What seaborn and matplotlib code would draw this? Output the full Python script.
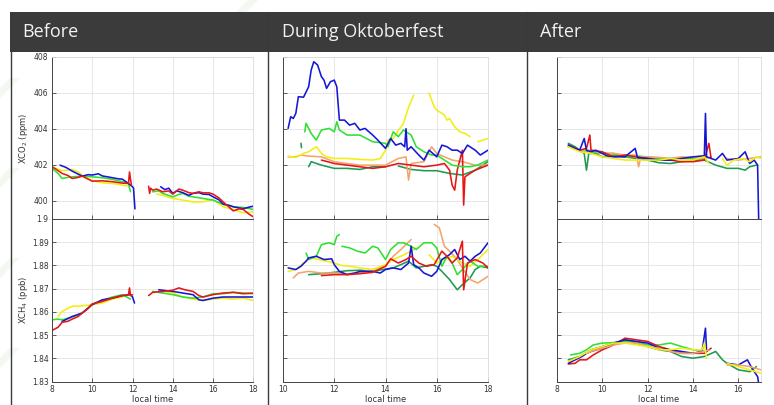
import numpy as np
import matplotlib
matplotlib.use("Agg")
import matplotlib.pyplot as plt
import seaborn as sns
from matplotlib.patches import Rectangle, Polygon
from matplotlib.lines import Line2D

nan = float("nan")

# ---------------- text ----------------
PANEL_TITLES = ["Before", "During Oktoberfest", "After"]
CO2_LABEL = "XCO$_2$ (ppm)"
CH4_LABEL = "XCH$_4$ (ppb)"
X_LABEL = "local time"
CO2_TICKS = [400, 402, 404, 406, 408]
CO2_TICKLABELS = ["400", "402", "404", "406", "408"]
CH4_TICKS = [1.83, 1.84, 1.85, 1.86, 1.87, 1.88, 1.89, 1.90]
CH4_TICKLABELS = ["1.83", "1.84", "1.85", "1.86", "1.87", "1.88", "1.89", "1.9"]
X_TICKS_BEFORE = [8, 10, 12, 14, 16, 18]
X_TICKS_DURING = [10, 12, 14, 16, 18]
X_TICKS_AFTER = [8, 10, 12, 14, 16]

# ---------------- BEFORE: XCO2 ----------------
BEF_CO2_BLUE_T = [8.4, 8.7, 9.0, 9.5, 9.8, 10.0, 10.3, 10.5, 11.0, 11.3, 11.5, 11.8, 12.0, 12.05, 12.12, nan,
                  13.4, 13.6, 13.8, 14.0, 14.2, 14.5, 14.8, 15.0, 15.3, 15.5, 15.8, 16.0, 16.3, 16.5, 16.8, 17.0, 17.3, 17.5, 17.8, 18.0]
BEF_CO2_BLUE_V = [401.98, 401.85, 401.65, 401.37, 401.45, 401.43, 401.50, 401.38, 401.28, 401.22, 401.20, 400.96, 400.78, 400.70, 399.55, nan,
                  400.78, 400.62, 400.70, 400.41, 400.55, 400.45, 400.30, 400.41, 400.45, 400.37, 400.35, 400.22, 400.05, 399.81, 399.75, 399.67, 399.60, 399.56, 399.65, 399.70]
BEF_CO2_RED_T = [8.0, 8.2, 8.5, 8.8, 9.0, 9.3, 9.5, 9.8, 10.0, 10.5, 11.0, 11.5, 11.8, 11.85, 11.9, 11.95, nan,
                 12.8, 12.85, 12.9, 13.0, 13.2, 13.5, 13.8, 14.0, 14.3, 14.5, 14.8, 15.0, 15.3, 15.5, 15.8, 16.0, 16.3, 16.5, 16.8, 17.0, 17.3, 17.5, 17.8, 18.0]
BEF_CO2_RED_V = [401.89, 401.75, 401.52, 401.40, 401.24, 401.30, 401.37, 401.20, 401.09, 401.11, 401.06, 400.98, 400.96, 401.60, 401.20, 400.85, nan,
                 400.81, 400.41, 400.70, 400.59, 400.65, 400.50, 400.55, 400.37, 400.65, 400.59, 400.45, 400.41, 400.50, 400.44, 400.44, 400.37, 400.15, 399.94, 399.65, 399.44, 399.55, 399.52, 399.25, 399.11]
BEF_CO2_GREEN_T = [8.0, 8.3, 8.5, 8.8, 9.0, 9.5, 10.0, 10.5, 11.0, 11.5, 11.8, 11.9, nan,
                   13.0, 13.3, 13.5, 14.0, 14.3, 14.5, 14.8, 15.0, 15.5, 16.0, 16.5, 17.0, 17.5, 18.0]
BEF_CO2_GREEN_V = [401.80, 401.52, 401.24, 401.30, 401.33, 401.37, 401.33, 401.28, 401.19, 401.06, 400.96, 400.50, nan,
                   400.50, 400.55, 400.41, 400.22, 400.35, 400.41, 400.25, 400.22, 400.13, 400.04, 399.81, 399.67, 399.63, 399.52]
BEF_CO2_YELLOW_T = [8.0, 8.5, 9.0, 9.3, 9.5, 10.0, 10.5, 11.0, 11.5, 11.8, nan,
                    13.2, 13.5, 14.0, 14.5, 15.0, 15.5, 16.0, 16.5, 17.0, 17.5, 18.0]
BEF_CO2_YELLOW_V = [401.89, 401.67, 401.74, 401.60, 401.43, 401.11, 401.00, 400.96, 400.87, 400.81, nan,
                    400.37, 400.31, 400.13, 400.04, 399.94, 399.94, 400.07, 399.67, 399.52, 399.33, 399.39]

# ---------------- BEFORE: XCH4 ----------------
BEF_CH4_RED_T = [8.0, 8.3, 8.5, 8.8, 9.0, 9.3, 9.5, 9.8, 10.0, 10.5, 11.0, 11.5, 11.8, 11.85, 11.9, 12.0, nan,
                 12.8, 13.0, 13.5, 14.0, 14.3, 14.6, 15.0, 15.3, 15.5, 16.0, 16.5, 17.0, 17.5, 18.0]
BEF_CH4_RED_V = [1.8520, 1.8534, 1.8555, 1.8560, 1.8569, 1.8580, 1.8595, 1.8615, 1.8634, 1.8645, 1.8659, 1.8670, 1.8674, 1.8703, 1.8670, 1.8674, nan,
                 1.8670, 1.8684, 1.8688, 1.8693, 1.8703, 1.8695, 1.8688, 1.8670, 1.8664, 1.8674, 1.8681, 1.8684, 1.8678, 1.8681]
BEF_CH4_BLUE_T = [8.5, 9.0, 9.5, 10.0, 10.5, 11.0, 11.5, 11.9, 12.0, 12.1, nan,
                  13.3, 13.5, 14.0, 14.5, 15.0, 15.3, 15.5, 16.0, 16.5, 17.0, 17.5, 18.0]
BEF_CH4_BLUE_V = [1.8559, 1.8580, 1.8595, 1.8631, 1.8652, 1.8659, 1.8670, 1.8674, 1.8664, 1.8638, nan,
                  1.8695, 1.8693, 1.8688, 1.8681, 1.8674, 1.8652, 1.8649, 1.8659, 1.8664, 1.8664, 1.8664, 1.8664]
BEF_CH4_GREEN_T = [8.0, 8.3, 8.5, 9.0, 9.5, 10.0, 10.5, 11.0, 11.5, 11.9, nan,
                   13.0, 13.5, 14.0, 14.5, 15.0, 15.5, 16.0, 16.5, 17.0, 17.5, 18.0]
BEF_CH4_GREEN_V = [1.8566, 1.8569, 1.8566, 1.8578, 1.8595, 1.8634, 1.8649, 1.8664, 1.8674, 1.8655, nan,
                   1.8688, 1.8681, 1.8674, 1.8664, 1.8659, 1.8664, 1.8678, 1.8678, 1.8684, 1.8681, 1.8678]
BEF_CH4_YELLOW_T = [8.3, 8.5, 9.0, 9.5, 10.0, 10.5, 11.0, 11.5, nan,
                    13.6, 14.0, 14.5, 15.0, 15.5, 16.0, 16.5, 17.0, 17.5, 18.0]
BEF_CH4_YELLOW_V = [1.8580, 1.8602, 1.8624, 1.8626, 1.8631, 1.8638, 1.8655, 1.8664, nan,
                    1.8688, 1.8681, 1.8664, 1.8655, 1.8649, 1.8655, 1.8659, 1.8655, 1.8659, 1.8649]

# ---------------- DURING: XCO2 ----------------
DUR_CO2_BLUE_T = [10.2, 10.3, 10.4, 10.5, 10.6, 10.8, 11.0, 11.1, 11.2, 11.35, 11.5, 11.6, 11.7, 11.85, 12.0, 12.1, 12.2, 12.4, 12.6, 12.8,
                  13.0, 13.2, 13.5, 13.7, 14.0, 14.2, 14.4, 14.6, 14.75, 14.8, 14.85, 15.0, 15.3, 15.5, 15.7, 16.0, 16.2, 16.4, 16.6, 16.8,
                  17.0, 17.2, 17.5, 17.7, 18.0]
DUR_CO2_BLUE_V = [404.02, 404.67, 404.57, 404.85, 405.78, 405.75, 406.33, 407.26, 407.72, 407.54, 406.89, 406.70, 406.24, 406.61, 406.70, 406.33, 404.48, 404.48, 404.20, 404.30,
                  403.93, 404.02, 403.65, 403.37, 402.91, 403.46, 403.09, 403.19, 403.00, 404.00, 402.81, 403.00, 402.54, 402.26, 402.81, 402.44, 403.09, 403.00, 402.81, 402.81,
                  402.63, 403.09, 402.81, 402.54, 402.81]
DUR_CO2_GREEN_T = [10.85, 10.9, 11.1, 11.3, 11.5, 11.8, 12.0, 12.1, 12.2, 12.5, 13.0, 13.5, 14.0, 14.1, 14.3, 14.5, 14.7, 15.0, 15.2, 15.5,
                   15.8, 16.0, 16.3, 16.6, 17.0, 17.3, 17.6, 18.0]
DUR_CO2_GREEN_V = [403.83, 404.30, 403.74, 403.37, 403.93, 404.02, 403.83, 404.39, 403.93, 403.65, 403.65, 403.28, 403.19, 403.00, 403.83, 403.56, 403.93, 403.65, 403.00, 402.72,
                   402.54, 402.54, 402.26, 401.98, 401.89, 401.89, 401.98, 402.26]
DUR_CO2_DKGREEN_T = [10.7, 10.72, nan, 11.0, 11.1, 11.5, 12.0, 12.5, 13.0, 13.5, 14.0, nan,
                     14.5, 15.0, 15.5, 16.0, 16.5, 17.0, 17.5, 18.0]
DUR_CO2_DKGREEN_V = [403.19, 402.95, nan, 401.89, 402.17, 401.98, 401.80, 401.80, 401.74, 401.89, 401.89, nan,
                     401.93, 401.74, 401.67, 401.67, 401.52, 401.43, 401.70, 402.17]
DUR_CO2_RED_T = [11.5, 12.0, 12.5, 13.0, 13.5, 14.0, 14.5, 15.0, 15.5, 16.0, 16.3, 16.5, 16.6, 16.7, 16.8, 17.0, 17.05, 17.1, 17.3, 17.5, 18.0]
DUR_CO2_RED_V = [402.26, 402.07, 401.98, 401.89, 401.80, 401.89, 402.07, 401.98, 401.89, 401.98, 402.07, 401.70, 400.87, 400.59, 401.70, 402.81, 399.76, 401.33, 401.52, 401.70, 401.98]
DUR_CO2_YELLOW_T = [10.2, 10.5, 10.8, 11.0, 11.3, 11.5, 11.7, 12.0, 12.5, 13.0, 13.5, 13.8, 14.0, 14.1, 14.3, 14.5, 14.7, 14.9, 15.1, nan,
                    15.7, 15.9, 16.0, 16.3, 16.4, 16.5, 16.7, 16.9, 17.1, 17.3, nan, 17.6, 18.0]
DUR_CO2_YELLOW_V = [402.48, 402.41, 402.63, 402.72, 403.00, 402.63, 402.44, 402.35, 402.35, 402.30, 402.26, 402.35, 402.81, 403.37, 403.46, 403.90, 404.30, 405.20, 405.87, nan,
                    405.98, 405.22, 405.04, 404.76, 404.48, 404.57, 404.11, 403.83, 403.74, 403.56, nan, 403.28, 403.46]
DUR_CO2_ORANGE_T = [10.2, 10.5, 10.7, 11.0, 11.5, 12.0, 12.5, 13.0, 13.5, 14.0, 14.5, 14.8, 14.9, 15.0, 15.5, 15.8, 16.0, 16.3, 16.6, 17.0, 17.5, 18.0]
DUR_CO2_ORANGE_V = [402.44, 402.44, 402.54, 402.48, 402.44, 402.17, 402.07, 401.98, 401.98, 401.98, 402.35, 402.44, 401.15, 402.07, 402.17, 403.00, 402.63, 402.44, 402.26, 402.17, 401.98, 401.98]

# ---------------- DURING: XCH4 ----------------
DUR_CH4_BLUE_T = [10.2, 10.5, 10.7, 10.9, 11.0, 11.3, 11.6, 11.9, 12.0, 12.2, 12.5, 12.8, 13.0, 13.5, 13.8, 14.0, 14.3, 14.6, 14.9, 15.0,
                  15.1, 15.3, 15.5, 15.8, 16.0, 16.2, 16.5, 16.7, 16.9, 17.1, 17.3, 17.5, 17.7, 18.0]
DUR_CH4_BLUE_V = [1.8789, 1.8782, 1.8796, 1.8818, 1.8832, 1.8839, 1.8825, 1.8828, 1.8803, 1.8774, 1.8760, 1.8767, 1.8774, 1.8774, 1.8767, 1.8782, 1.8789, 1.8782, 1.8810, 1.8882,
                  1.8803, 1.8789, 1.8767, 1.8753, 1.8774, 1.8825, 1.8846, 1.8868, 1.8825, 1.8839, 1.8818, 1.8839, 1.8853, 1.8897]
DUR_CH4_GREEN_T = [10.9, 11.0, 11.3, 11.5, 11.8, 12.0, 12.1, 12.2, nan, 12.3, 12.6, 12.9, 13.2, 13.5, 13.7, 14.0, 14.2, 14.5, 14.7, 15.0,
                   15.2, 15.5, 15.8, 16.0, 16.2, 16.4, 16.6, 16.8, 17.0, 17.3, 17.6, 18.0]
DUR_CH4_GREEN_V = [1.8853, 1.8825, 1.8839, 1.8889, 1.8897, 1.8889, 1.8925, 1.8932, nan, 1.8882, 1.8875, 1.8861, 1.8853, 1.8882, 1.8875, 1.8825, 1.8868, 1.8897, 1.8897, 1.8882,
                   1.8868, 1.8897, 1.8897, 1.8875, 1.8796, 1.8839, 1.8810, 1.8760, 1.8782, 1.8818, 1.8796, 1.8796]
DUR_CH4_DKGREEN_T = [11.0, 11.5, 12.0, 12.5, 13.0, 13.5, 14.0, 14.3, 14.6, 14.9, 15.2, 15.5, 15.8, 16.0, 16.2, 16.5, 16.8, 17.0, 17.3, 17.5, 17.7, 18.0]
DUR_CH4_DKGREEN_V = [1.8760, 1.8764, 1.8770, 1.8777, 1.8779, 1.8774, 1.8784, 1.8789, 1.8803, 1.8818, 1.8789, 1.8796, 1.8803, 1.8796, 1.8774, 1.8739, 1.8695, 1.8717, 1.8746, 1.8782, 1.8796, 1.8789]
DUR_CH4_RED_T = [11.5, 12.0, 12.5, 13.0, 13.5, 14.0, 14.2, 14.5, 14.8, 15.0, 15.3, 15.6, 15.9, 16.2, 16.4, 16.6, 16.8, 17.0, 17.05, 17.2, 17.5, 17.8, 18.0]
DUR_CH4_RED_V = [1.8756, 1.8760, 1.8760, 1.8764, 1.8770, 1.8796, 1.8828, 1.8810, 1.8825, 1.8839, 1.8810, 1.8796, 1.8803, 1.8861, 1.8839, 1.8810, 1.8832, 1.8904, 1.8695, 1.8810, 1.8825, 1.8810, 1.8789]
DUR_CH4_YELLOW_T = [10.2, 10.5, 10.8, 11.1, 11.4, 11.7, 12.0, 12.3, 12.6, 13.0, 13.5, 14.0, 14.3, 14.6, 15.0, 15.2, nan,
                    15.7, 16.0, 16.3, 16.6, 17.0, 17.3, 17.6, 18.0]
DUR_CH4_YELLOW_V = [1.8774, 1.8782, 1.8810, 1.8832, 1.8825, 1.8818, 1.8810, 1.8799, 1.8796, 1.8789, 1.8782, 1.8803, 1.8825, 1.8839, 1.8861, 1.8875, nan,
                    1.8846, 1.8810, 1.8825, 1.8839, 1.8810, 1.8796, 1.8825, 1.8868]
DUR_CH4_ORANGE_T = [10.4, 10.6, 11.0, 11.5, 12.0, 12.5, 13.0, 13.5, 14.0, 14.3, 14.6, 15.0, nan,
                    15.9, 16.1, 16.3, 16.5, 16.8, 17.0, 17.3, 17.6, 18.0]
DUR_CH4_ORANGE_V = [1.8746, 1.8767, 1.8774, 1.8767, 1.8767, 1.8764, 1.8767, 1.8782, 1.8796, 1.8839, 1.8868, 1.8911, nan,
                    1.8976, 1.8961, 1.8882, 1.8861, 1.8825, 1.8789, 1.8739, 1.8724, 1.8753]

# ---------------- AFTER: XCO2 ----------------
AFT_CO2_BLUE_T = [8.5, 8.8, 9.0, 9.2, 9.3, 9.5, 9.7, 10.0, 10.3, 10.6, 11.0, 11.45, 11.55, 12.0, 12.5, 13.0, 13.5, 14.0, 14.5, 14.55,
                  14.6, 15.0, 15.3, 15.5, 16.0, 16.3, 16.5, 16.7, 16.85, 16.9]
AFT_CO2_BLUE_V = [403.09, 402.91, 402.81, 403.46, 402.81, 402.72, 402.81, 402.63, 402.44, 402.44, 402.44, 402.91, 402.40, 402.35, 402.26, 402.26, 402.35, 402.44, 402.50, 404.85,
                  402.44, 402.26, 402.63, 402.26, 402.35, 402.72, 402.07, 402.26, 401.98, 398.80]
AFT_CO2_RED_T = [8.5, 9.0, 9.3, 9.45, 9.5, 10.0, 10.5, 11.0, 11.5, 12.0, 12.5, 13.0, 13.5, 14.0, 14.5, 14.7, 14.8]
AFT_CO2_RED_V = [403.09, 402.81, 402.91, 403.65, 402.81, 402.72, 402.44, 402.54, 402.44, 402.35, 402.26, 402.26, 402.17, 402.17, 402.26, 403.19, 402.35]
AFT_CO2_DKGREEN_T = [8.5, 8.8, 9.0, 9.2, 9.3, 9.4, 9.7, 10.0, 10.5, 11.0, 11.5, 12.0, 12.5, 13.0, 13.5, 14.0, 14.5, 15.0, 15.5, 16.0, 16.3, 16.5, 16.8]
AFT_CO2_DKGREEN_V = [403.19, 403.00, 402.81, 402.63, 401.70, 402.63, 402.63, 402.44, 402.54, 402.44, 402.35, 402.26, 402.11, 402.07, 402.17, 402.26, 402.26, 401.98, 401.80, 401.80, 401.70, 401.89, 401.98]
AFT_CO2_GREEN_T = [8.5, 9.0, 9.5, 10.0, 10.5, 11.0, 11.5, 12.0, 12.5, 13.0, 13.5, 14.0, 14.5]
AFT_CO2_GREEN_V = [403.00, 402.81, 402.72, 402.63, 402.63, 402.44, 402.48, 402.44, 402.35, 402.35, 402.35, 402.35, 402.44]
AFT_CO2_YELLOW_T = [8.5, 9.0, 9.5, 10.0, 10.5, 11.0, 11.5, 12.0, 12.5, 13.0, 13.5, 14.0, 14.5, 14.7, nan,
                    15.3, 15.5, 15.8, 16.2, 16.5, 16.8, 17.0]
AFT_CO2_YELLOW_V = [403.00, 402.72, 402.63, 402.44, 402.35, 402.26, 402.26, 402.26, 402.26, 402.35, 402.26, 402.26, 402.44, 402.07, nan,
                    402.35, 401.98, 402.26, 402.35, 402.17, 402.44, 402.35]
AFT_CO2_ORANGE_T = [8.5, 9.0, 9.5, 10.0, 10.5, 11.0, 11.5, 11.6, 11.7, 12.0, 12.5, 13.0, 13.5, 14.0, 14.5, 14.8, nan,
                    15.5, 16.0, 16.5, 17.0]
AFT_CO2_ORANGE_V = [403.00, 402.81, 402.81, 402.63, 402.63, 402.54, 402.54, 401.89, 402.44, 402.44, 402.41, 402.35, 402.44, 402.41, 402.35, 402.44, nan,
                    402.35, 402.26, 402.35, 402.44]

# ---------------- AFTER: XCH4 ----------------
AFT_CH4_RED_T = [8.5, 8.8, 9.0, 9.3, 9.6, 10.0, 10.5, 11.0, 11.5, 12.0, 12.5, 13.0, 13.5, 14.0, 14.5, 14.8]
AFT_CH4_RED_V = [1.8376, 1.8379, 1.8394, 1.8394, 1.8415, 1.8437, 1.8458, 1.8487, 1.8480, 1.8473, 1.8451, 1.8437, 1.8422, 1.8422, 1.8422, 1.8444]
AFT_CH4_BLUE_T = [8.5, 8.8, 9.1, 9.3, 9.5, 10.0, 10.5, 11.0, 11.5, 12.0, 12.5, 13.0, 13.5, 14.0, 14.4, 14.55, 14.6, nan,
                  15.5, 16.0, 16.4, 16.6, 16.85, 16.9]
AFT_CH4_BLUE_V = [1.8379, 1.8394, 1.8408, 1.8422, 1.8430, 1.8444, 1.8466, 1.8480, 1.8473, 1.8466, 1.8444, 1.8437, 1.8430, 1.8422, 1.8430, 1.8530, 1.8430, nan,
                  1.8379, 1.8372, 1.8394, 1.8358, 1.8322, 1.8290]
AFT_CH4_GREEN_T = [8.6, 9.0, 9.3, 9.6, 10.0, 10.5, 11.0, 11.5, 12.0, 12.5, 13.0, 13.5, 14.0, 14.5]
AFT_CH4_GREEN_V = [1.8415, 1.8422, 1.8437, 1.8458, 1.8466, 1.8468, 1.8473, 1.8473, 1.8458, 1.8458, 1.8466, 1.8451, 1.8437, 1.8430]
AFT_CH4_DKGREEN_T = [8.5, 9.0, 9.5, 10.0, 10.5, 11.0, 11.5, 12.0, 12.5, 13.0, 13.5, 14.0, 14.5, 15.0, 15.3, 15.5, 16.0, 16.5, 16.8]
AFT_CH4_DKGREEN_V = [1.8394, 1.8408, 1.8437, 1.8451, 1.8466, 1.8480, 1.8466, 1.8451, 1.8437, 1.8430, 1.8408, 1.8401, 1.8408, 1.8430, 1.8394, 1.8379, 1.8351, 1.8343, 1.8365]
AFT_CH4_YELLOW_T = [8.5, 9.0, 9.5, 10.0, 10.5, 11.0, 11.5, 12.0, 12.5, 13.0, 13.5, 14.0, 14.4, 14.5, 14.6, nan,
                    15.5, 16.0, 16.5, 17.0]
AFT_CH4_YELLOW_V = [1.8387, 1.8408, 1.8437, 1.8451, 1.8466, 1.8466, 1.8458, 1.8451, 1.8437, 1.8437, 1.8444, 1.8437, 1.8437, 1.8466, 1.8401, nan,
                    1.8379, 1.8365, 1.8351, 1.8336]
AFT_CH4_ORANGE_T = [9.3, 9.5, 10.0, 10.5, 11.0, 11.5, 12.0, 12.5, 13.0, 13.5, 14.0, 14.5, 14.7, nan,
                    15.5, 16.0, 16.5, 17.0]
AFT_CH4_ORANGE_V = [1.8422, 1.8430, 1.8444, 1.8458, 1.8466, 1.8466, 1.8451, 1.8444, 1.8430, 1.8422, 1.8422, 1.8430, 1.8437, nan,
                    1.8372, 1.8372, 1.8365, 1.8351]

# ---------------- colours ----------------
C_BLUE = "#1616d6"
C_GREEN = "#30e030"
C_YELLOW = "#f2ee10"
C_RED = "#e61616"
C_ORANGE = "#f2a46c"
C_DKGREEN = "#1f9a52"

# ---------------- style ----------------
sns.set_theme(style="whitegrid")
plt.rcParams["font.family"] = ["DejaVu Sans"]

W, H = 774, 405
fig = plt.figure(figsize=(W / 100, H / 100), dpi=100)
fig.patch.set_facecolor("white")


def fx(px):
    return px / W


def fy(py):
    return 1 - py / H


# very faint diagonal watermark stripes at the left edge
wm = "#f3f9f1"
for (x0, y0) in [(-22, 110), (-22, 200), (-22, 290), (-22, 380), (236, 12)]:
    poly = Polygon([(fx(x0), fy(y0)), (fx(x0 + 10), fy(y0)), (fx(x0 + 42), fy(y0 - 32)), (fx(x0 + 32), fy(y0 - 32))],
                   closed=True, transform=fig.transFigure, facecolor=wm, edgecolor="none", zorder=0)
    fig.patches.append(poly)

# header bar
fig.patches.append(Rectangle((fx(10), fy(52)), fx(764), 40 / H, transform=fig.transFigure,
                             facecolor="#3b3b3b", edgecolor="none", zorder=1))
for x0, title in zip([22, 282, 540], PANEL_TITLES):
    fig.text(fx(x0), fy(32), title, color="#f2f2f2", fontsize=13, va="center", ha="left",
             family=["Open Sans", "DejaVu Sans"], zorder=3)

# column separators
for xs in [10.5, 268, 527]:
    fig.lines.append(Line2D([fx(xs), fx(xs)], [fy(12), fy(405)], transform=fig.transFigure,
                            color="#3a3a3a", lw=1.0, zorder=2))

# axes geometry (pixels)
COLS = [(52, 253.3, (8, 18), X_TICKS_BEFORE),
        (283, 488, (10, 18), X_TICKS_DURING),
        (557, 761, (8, 17), X_TICKS_AFTER)]
TOP, MID, BOT = 56.7, 218.8, 381.7

DATA = [
    [  # before
        [(BEF_CO2_YELLOW_T, BEF_CO2_YELLOW_V, C_YELLOW), (BEF_CO2_GREEN_T, BEF_CO2_GREEN_V, C_GREEN),
         (BEF_CO2_BLUE_T, BEF_CO2_BLUE_V, C_BLUE), (BEF_CO2_RED_T, BEF_CO2_RED_V, C_RED)],
        [(BEF_CH4_YELLOW_T, BEF_CH4_YELLOW_V, C_YELLOW), (BEF_CH4_GREEN_T, BEF_CH4_GREEN_V, C_GREEN),
         (BEF_CH4_BLUE_T, BEF_CH4_BLUE_V, C_BLUE), (BEF_CH4_RED_T, BEF_CH4_RED_V, C_RED)],
    ],
    [  # during
        [(DUR_CO2_DKGREEN_T, DUR_CO2_DKGREEN_V, C_DKGREEN), (DUR_CO2_ORANGE_T, DUR_CO2_ORANGE_V, C_ORANGE),
         (DUR_CO2_RED_T, DUR_CO2_RED_V, C_RED), (DUR_CO2_YELLOW_T, DUR_CO2_YELLOW_V, C_YELLOW),
         (DUR_CO2_GREEN_T, DUR_CO2_GREEN_V, C_GREEN), (DUR_CO2_BLUE_T, DUR_CO2_BLUE_V, C_BLUE)],
        [(DUR_CH4_DKGREEN_T, DUR_CH4_DKGREEN_V, C_DKGREEN), (DUR_CH4_ORANGE_T, DUR_CH4_ORANGE_V, C_ORANGE),
         (DUR_CH4_YELLOW_T, DUR_CH4_YELLOW_V, C_YELLOW), (DUR_CH4_GREEN_T, DUR_CH4_GREEN_V, C_GREEN),
         (DUR_CH4_BLUE_T, DUR_CH4_BLUE_V, C_BLUE), (DUR_CH4_RED_T, DUR_CH4_RED_V, C_RED)],
    ],
    [  # after
        [(AFT_CO2_DKGREEN_T, AFT_CO2_DKGREEN_V, C_DKGREEN), (AFT_CO2_GREEN_T, AFT_CO2_GREEN_V, C_GREEN),
         (AFT_CO2_ORANGE_T, AFT_CO2_ORANGE_V, C_ORANGE), (AFT_CO2_RED_T, AFT_CO2_RED_V, C_RED),
         (AFT_CO2_BLUE_T, AFT_CO2_BLUE_V, C_BLUE), (AFT_CO2_YELLOW_T, AFT_CO2_YELLOW_V, C_YELLOW)],
        [(AFT_CH4_DKGREEN_T, AFT_CH4_DKGREEN_V, C_DKGREEN), (AFT_CH4_GREEN_T, AFT_CH4_GREEN_V, C_GREEN),
         (AFT_CH4_RED_T, AFT_CH4_RED_V, C_RED), (AFT_CH4_BLUE_T, AFT_CH4_BLUE_V, C_BLUE),
         (AFT_CH4_ORANGE_T, AFT_CH4_ORANGE_V, C_ORANGE), (AFT_CH4_YELLOW_T, AFT_CH4_YELLOW_V, C_YELLOW)],
    ],
]


def draw_series(ax, t, v, color):
    t = np.asarray(t, dtype=float)
    v = np.asarray(v, dtype=float)
    gap = np.isnan(v) | np.isnan(t)
    seg = np.cumsum(gap)
    for s in np.unique(seg[~gap]):
        m = (~gap) & (seg == s)
        if m.sum() < 2:
            continue
        sns.lineplot(x=t[m], y=v[m], ax=ax, color=color, lw=1.15, estimator=None,
                     sort=False, legend=False)


def style_axes(ax, xlim, xticks, ylim, yticks, yticklabels, show_y, show_x):
    ax.set_facecolor("white")
    ax.set_xlim(*xlim)
    ax.set_ylim(*ylim)
    ax.set_xticks(xticks)
    ax.set_yticks(yticks)
    ax.grid(True, color="#e3e3e3", lw=0.6)
    for side in ["left", "bottom"]:
        ax.spines[side].set_color("#444444")
        ax.spines[side].set_linewidth(0.7)
    for side in ["top", "right"]:
        ax.spines[side].set_color("#dadada")
        ax.spines[side].set_linewidth(0.6)
    ax.tick_params(direction="in", length=3, width=0.6, color="#444444",
                   labelsize=5.5, labelcolor="#333333", pad=2.5)
    ax.tick_params(top=False, right=False, left=True, bottom=True)
    if show_y:
        ax.set_yticklabels(yticklabels)
    else:
        ax.set_yticklabels([])
    if show_x:
        ax.set_xticklabels([str(t) for t in xticks])
        ax.set_xlabel(X_LABEL, fontsize=6, color="#333333", labelpad=0.5)
    else:
        ax.set_xticklabels([])
        ax.set_xlabel("")
    ax.set_ylabel("")


for ci, (x0, x1, xlim, xticks) in enumerate(COLS):
    ax_co2 = fig.add_axes([fx(x0), fy(MID), fx(x1 - x0), (MID - TOP) / H])
    ax_ch4 = fig.add_axes([fx(x0), fy(BOT), fx(x1 - x0), (BOT - MID) / H])
    for t, v, c in DATA[ci][0]:
        draw_series(ax_co2, t, v, c)
    for t, v, c in DATA[ci][1]:
        draw_series(ax_ch4, t, v, c)
    style_axes(ax_co2, xlim, xticks, (399, 408), CO2_TICKS, CO2_TICKLABELS, ci == 0, False)
    style_axes(ax_ch4, xlim, xticks, (1.83, 1.90), CH4_TICKS, CH4_TICKLABELS, ci == 0, True)
    ax_ch4.set_zorder(1)
    ax_co2.set_zorder(2)
    ax_co2.patch.set_alpha(0)

fig.text(fx(24), fy(138), CO2_LABEL, rotation=90, fontsize=6, color="#333333", ha="center", va="center")
fig.text(fx(24), fy(300), CH4_LABEL, rotation=90, fontsize=6, color="#333333", ha="center", va="center")

fig.savefig("out.png", dpi=100, facecolor="white")
